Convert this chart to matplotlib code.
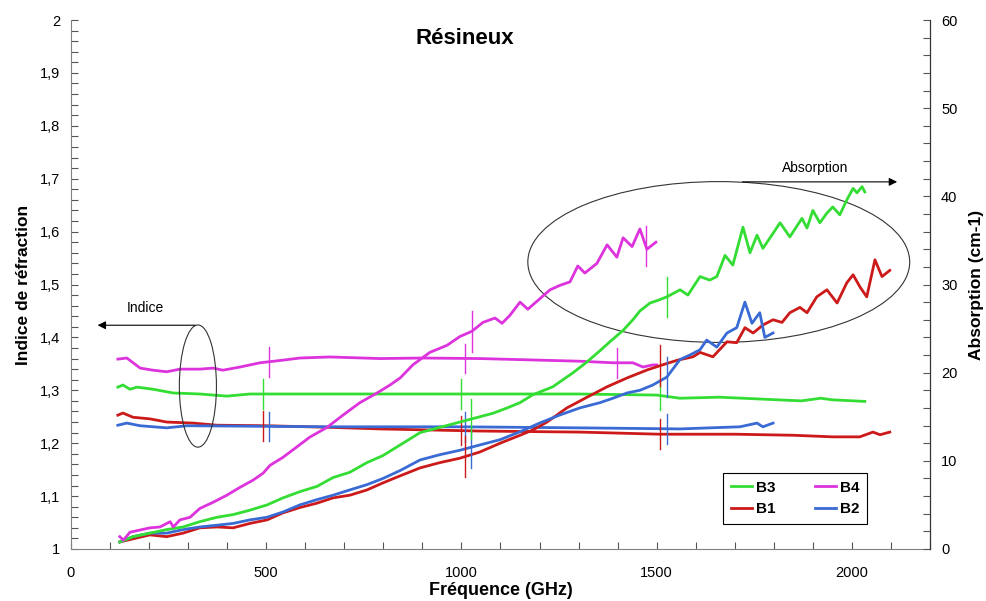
import numpy as np
import matplotlib
matplotlib.use("Agg")
import matplotlib.pyplot as plt
from matplotlib.patches import Ellipse

plt.rcParams['font.family'] = ['Liberation Sans', 'DejaVu Sans']

# ---------------- data ----------------
series_names = ["B3", "B4", "B1", "B2"]
series_colors = {"B3": "#33dd33", "B4": "#dd33dd", "B1": "#cc1a1a", "B2": "#3a6ad4"}

# refractive index (left axis)
b4_idx_f = [120, 143, 177, 210, 245, 279, 330, 364, 389, 433, 484, 543, 586, 663, 791, 900, 1047, 1150, 1303, 1388, 1439, 1465, 1490, 1500]
b4_idx_v = [1.359, 1.361, 1.342, 1.338, 1.335, 1.340, 1.340, 1.342, 1.338, 1.344, 1.352, 1.357, 1.361, 1.363, 1.360, 1.361, 1.360, 1.358, 1.355, 1.352, 1.352, 1.344, 1.348, 1.348]

b3_idx_f = [120, 133, 151, 169, 210, 261, 330, 399, 458, 663, 1000, 1300, 1500, 1560, 1660, 1780, 1870, 1920, 1950, 2033]
b3_idx_v = [1.306, 1.310, 1.302, 1.306, 1.302, 1.295, 1.293, 1.289, 1.293, 1.293, 1.293, 1.293, 1.291, 1.285, 1.287, 1.283, 1.280, 1.285, 1.282, 1.279]

b1_idx_f = [120, 133, 159, 202, 245, 313, 374, 502, 663, 791, 1047, 1303, 1508, 1700, 1850, 1951, 2020, 2054, 2072, 2097]
b1_idx_v = [1.253, 1.257, 1.249, 1.246, 1.240, 1.238, 1.234, 1.233, 1.230, 1.227, 1.223, 1.221, 1.217, 1.217, 1.215, 1.212, 1.212, 1.221, 1.216, 1.221]

b2_idx_f = [120, 143, 177, 245, 297, 663, 1000, 1303, 1560, 1636, 1713, 1757, 1772, 1798]
b2_idx_v = [1.234, 1.238, 1.233, 1.229, 1.233, 1.231, 1.231, 1.229, 1.227, 1.229, 1.231, 1.238, 1.231, 1.238]

# absorption (right axis, cm-1)
b4_abs_f = [125, 134, 151, 202, 228, 254, 262, 279, 305, 330, 364, 399, 433, 466, 492, 510, 543, 579, 612, 656, 697, 740, 784, 817, 843, 876, 919, 963, 996, 1027, 1055, 1086, 1104, 1124, 1150, 1170, 1196, 1227, 1252, 1278, 1298, 1316, 1347, 1373, 1398, 1414, 1437, 1457, 1475, 1498]
b4_abs_v = [1.4, 1.0, 1.9, 2.4, 2.5, 3.1, 2.5, 3.3, 3.6, 4.6, 5.3, 6.1, 7.0, 7.8, 8.6, 9.5, 10.4, 11.6, 12.7, 13.8, 15.2, 16.6, 17.7, 18.6, 19.4, 20.9, 22.3, 23.1, 24.1, 24.7, 25.7, 26.2, 25.6, 26.5, 28.0, 27.2, 28.2, 29.4, 29.9, 30.3, 32.1, 31.3, 32.4, 34.5, 33.1, 35.3, 34.3, 36.3, 34.0, 34.8]

b3_abs_f = [125, 159, 202, 245, 287, 330, 374, 415, 458, 502, 543, 586, 630, 671, 714, 758, 799, 843, 894, 945, 996, 1047, 1081, 1117, 1150, 1183, 1234, 1286, 1321, 1355, 1380, 1414, 1439, 1457, 1483, 1503, 1526, 1560, 1580, 1611, 1636, 1654, 1675, 1695, 1721, 1739, 1757, 1772, 1798, 1816, 1841, 1872, 1885, 1900, 1918, 1936, 1951, 1969, 1987, 2003, 2013, 2026, 2033]
b3_abs_v = [0.8, 1.4, 1.8, 2.2, 2.5, 3.1, 3.6, 3.9, 4.4, 5.0, 5.8, 6.5, 7.1, 8.1, 8.7, 9.8, 10.6, 11.8, 13.2, 13.8, 14.4, 15.0, 15.4, 16.0, 16.6, 17.5, 18.4, 20.0, 21.2, 22.5, 23.5, 24.8, 26.0, 27.0, 27.9, 28.2, 28.6, 29.4, 28.8, 30.9, 30.5, 30.9, 33.3, 32.2, 36.5, 33.6, 35.6, 34.1, 35.8, 37.0, 35.4, 37.5, 36.4, 38.4, 37.0, 38.1, 38.8, 37.9, 39.6, 40.9, 40.4, 41.1, 40.5]

b1_abs_f = [125, 202, 245, 287, 330, 374, 415, 458, 502, 543, 586, 630, 671, 714, 758, 799, 843, 894, 945, 996, 1047, 1099, 1150, 1183, 1219, 1270, 1321, 1373, 1424, 1475, 1516, 1552, 1593, 1611, 1644, 1680, 1705, 1726, 1747, 1772, 1798, 1821, 1841, 1867, 1885, 1910, 1936, 1962, 1987, 2003, 2021, 2038, 2059, 2077, 2097]
b1_abs_v = [0.8, 1.6, 1.4, 1.8, 2.4, 2.5, 2.4, 2.9, 3.3, 4.1, 4.7, 5.2, 5.8, 6.1, 6.7, 7.5, 8.3, 9.2, 9.8, 10.3, 11.0, 12.0, 12.9, 13.5, 14.4, 16.0, 17.2, 18.4, 19.4, 20.3, 20.9, 21.4, 21.8, 22.3, 21.8, 23.5, 23.4, 25.1, 24.5, 25.4, 26.0, 25.7, 26.8, 27.4, 26.8, 28.6, 29.4, 27.9, 30.2, 31.1, 29.7, 28.6, 32.8, 30.9, 31.6]

b2_abs_f = [125, 159, 202, 245, 287, 330, 374, 415, 458, 502, 543, 586, 630, 671, 714, 758, 799, 843, 894, 945, 996, 1047, 1099, 1150, 1201, 1252, 1303, 1355, 1388, 1424, 1457, 1490, 1526, 1560, 1585, 1611, 1628, 1654, 1680, 1705, 1726, 1744, 1764, 1777, 1798]
b2_abs_v = [0.8, 1.4, 1.8, 1.8, 2.2, 2.5, 2.7, 2.9, 3.3, 3.6, 4.2, 5.0, 5.6, 6.1, 6.7, 7.3, 8.0, 8.9, 10.1, 10.7, 11.2, 11.8, 12.4, 13.3, 14.3, 15.2, 16.0, 16.6, 17.1, 17.7, 18.0, 18.6, 19.5, 21.5, 22.0, 22.6, 23.7, 22.9, 24.5, 25.1, 28.0, 25.6, 26.8, 24.0, 24.5]

# frequencies of the small vertical marks on each curve
b4_idx_marks = [507, 1010, 1398]
b3_idx_marks = [492, 1000, 1508]
b1_idx_marks = [492, 1000, 1508]
b2_idx_marks = [507, 1010, 1526]
b4_abs_marks = [1027, 1472]
b3_abs_marks = [1025, 1526]
b1_abs_marks = [1010, 1508]
b2_abs_marks = [1025, 1526]

series = {
    "B3": (b3_idx_f, b3_idx_v, b3_abs_f, b3_abs_v, b3_idx_marks, b3_abs_marks),
    "B4": (b4_idx_f, b4_idx_v, b4_abs_f, b4_abs_v, b4_idx_marks, b4_abs_marks),
    "B1": (b1_idx_f, b1_idx_v, b1_abs_f, b1_abs_v, b1_idx_marks, b1_abs_marks),
    "B2": (b2_idx_f, b2_idx_v, b2_abs_f, b2_abs_v, b2_idx_marks, b2_abs_marks),
}

# ---------------- figure ----------------
fig = plt.figure(figsize=(9.87, 6.01), dpi=100)
ax = fig.add_axes([71/987, 1-549/601, (930-71)/987, (549-20)/601])
ax2 = ax.twinx()

lines = {}
for name in ["B1", "B2", "B3", "B4"]:
    fi, vi, fa, va, mi, ma = series[name]
    c = series_colors[name]
    ln, = ax.plot(fi, vi, color=c, lw=2.0, label=name, zorder=3)
    ax2.plot(fa, va, color=c, lw=2.0, zorder=3)
    lines[name] = ln
    for f in mi:
        y = np.interp(f, fi, vi)
        ax.plot([f, f], [y - 0.028, y + 0.028], color=c, lw=1.0, zorder=4)
    for f in ma:
        y = np.interp(f, fa, va)
        ax2.plot([f, f], [y - 2.3, y + 2.3], color=c, lw=1.0, zorder=4)

ax.set_xlim(0, 2200)
ax.set_ylim(1, 2)
ax2.set_ylim(0, 60)

ax.set_xticks([0, 500, 1000, 1500, 2000])
ax.set_xticks(np.arange(0, 2201, 100), minor=True)
ax.set_yticks(np.arange(1, 2.001, 0.1))
ax.set_yticks(np.arange(1, 2.001, 0.02), minor=True)
ax.set_yticklabels([f"{v:.1f}".replace(".", ",") if abs(v - round(v)) > 1e-6 else f"{int(round(v))}" for v in np.arange(1, 2.001, 0.1)])
ax2.set_yticks(np.arange(0, 61, 10))
ax2.set_yticks(np.arange(0, 61, 2), minor=True)

for a in (ax, ax2):
    a.tick_params(which='both', direction='in', length=5, width=0.8, colors='#555555', labelcolor='black', labelsize=10.5)
    a.tick_params(axis='y', pad=8)
    a.spines['top'].set_visible(False)
ax.tick_params(axis='x', pad=12)
ax.tick_params(which='both', top=False, right=False)
ax2.tick_params(which='both', left=False)
for s in ('left', 'bottom'):
    ax.spines[s].set_color('#808080')
ax2.spines['right'].set_color('#333333')
ax2.spines['left'].set_visible(False)
ax2.spines['bottom'].set_visible(False)

ax.set_xlabel("Fréquence (GHz)", fontsize=13, fontweight='bold', labelpad=2)
ax.set_ylabel("Indice de réfraction", fontsize=12.5, fontweight='bold', labelpad=6)
ax2.set_ylabel("Absorption (cm-1)", fontsize=12.5, fontweight='bold', labelpad=8)

fig.text(465/987, 1-38/601, "Résineux", fontsize=16, fontweight='bold', ha='center', va='center')

# annotations: ellipses and arrows
ax.add_patch(Ellipse((325, 1.308), 95, 0.231, fill=False, edgecolor='#333333', lw=0.8, zorder=5))
ax.annotate("", xy=(61, 1.423), xytext=(325, 1.423),
            arrowprops=dict(arrowstyle='-|>', color='black', lw=0.8, mutation_scale=12), zorder=5)
ax.text(190, 1.456, "Indice", fontsize=10, ha='center', va='center')

ax.add_patch(Ellipse((1659, 1.5425), 978, 0.304, fill=False, edgecolor='#333333', lw=0.8, zorder=5))
ax.annotate("", xy=(2123, 1.694), xytext=(1713, 1.694),
            arrowprops=dict(arrowstyle='-|>', color='black', lw=0.8, mutation_scale=12), zorder=5)
ax.text(1905, 1.720, "Absorption", fontsize=10, ha='center', va='center')

# legend (rows: B3 B4 / B1 B2)
handles = [lines["B3"], lines["B1"], lines["B4"], lines["B2"]]
leg = ax.legend(handles, ["B3", "B1", "B4", "B2"], ncol=2, loc='center',
                bbox_to_anchor=(0.843, 0.0955), frameon=True, fancybox=False,
                edgecolor='black', framealpha=1, handlelength=1.4, handletextpad=0.25,
                columnspacing=2.6, borderpad=0.5, labelspacing=0.5,
                prop={'weight': 'bold', 'size': 11})
leg.get_frame().set_linewidth(0.8)
leg.set_zorder(10)

fig.savefig("out.png", dpi=100)
